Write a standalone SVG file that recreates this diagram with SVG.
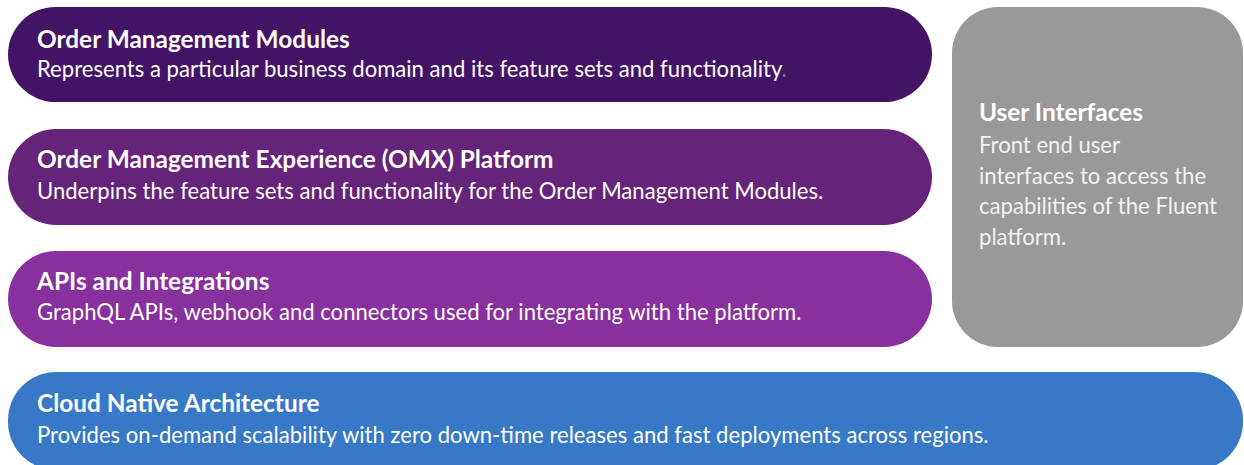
<svg xmlns="http://www.w3.org/2000/svg" width="1244" height="465" viewBox="0 0 1244 465">
<style>
.t{font-family:Lato,"Open Sans","Liberation Sans",sans-serif;fill:#ffffff;font-size:24.4px;font-weight:700}
.s{font-family:Lato,"Open Sans","Liberation Sans",sans-serif;fill:#ffffff;font-size:22.1px;font-weight:400}
.g{fill:#f2f2f2}
</style>
<rect width="1244" height="465" fill="#ffffff"/>
<g id="order-management-modules">
<rect x="8" y="7" width="924" height="95" rx="47.5" fill="#431466"/>
<text class="t" x="37" y="48">Order Management Modules</text>
<text class="s" x="37" y="77">Represents a particular business domain and its feature sets and functionality<tspan fill="#777777">.</tspan></text>
</g>
<g id="omx-platform">
<rect x="8" y="129" width="924" height="96" rx="48" fill="#66237a"/>
<text class="t" x="37" y="168">Order Management Experience (OMX) Platform</text>
<text class="s" x="37" y="199">Underpins the feature sets and functionality for the Order Management Modules.</text>
</g>
<g id="apis-integrations">
<rect x="8" y="251" width="924" height="96" rx="48" fill="#88309e"/>
<text class="t" x="37" y="290">APIs and Integrations</text>
<text class="s" x="37" y="320">GraphQL APIs, webhook and connectors used for integrating with the platform.</text>
</g>
<g id="user-interfaces">
<rect x="952" y="7" width="291" height="340" rx="46" fill="#999999"/>
<text class="t" x="979" y="121">User Interfaces</text>
<text class="s g" x="979" y="153">Front end user</text>
<text class="s g" x="979" y="184">interfaces to access the</text>
<text class="s g" x="979" y="214">capabilities of the Fluent</text>
<text class="s g" x="979" y="245">platform.</text>
</g>
<g id="cloud-native">
<rect x="8" y="372" width="1235" height="98" rx="48" fill="#3778c7"/>
<text class="t" x="37" y="412">Cloud Native Architecture</text>
<text class="s" x="37" y="443">Provides on-demand scalability with zero down-time releases and fast deployments across regions.</text>
</g>
<g id="connectors"></g>
</svg>
